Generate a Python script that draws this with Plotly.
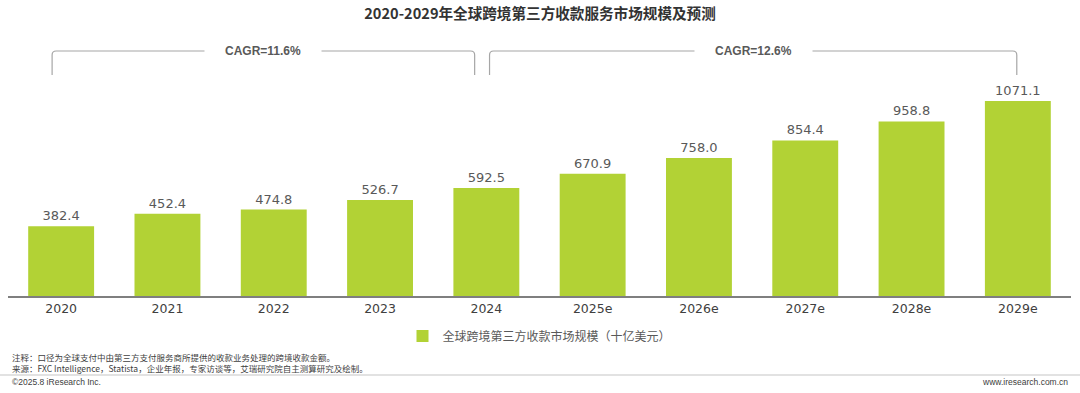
import plotly.graph_objects as go

categories = ["2020", "2021", "2022", "2023", "2024", "2025e", "2026e", "2027e", "2028e", "2029e"]
values = [382.4, 452.4, 474.8, 526.7, 592.5, 670.9, 758.0, 854.4, 958.8, 1071.1]
series_name = "全球跨境第三方收款市场规模（十亿美元）"
cagr_labels = ["CAGR=11.6%", "CAGR=12.6%"]
cagr_spans = [(0, 4), (4, 9)]
title = "2020-2029年全球跨境第三方收款服务市场规模及预测"
note1 = "注释：口径为全球支付中由第三方支付服务商所提供的收款业务处理的跨境收款金额。"
note2 = "来源：FXC Intelligence，Statista，企业年报，专家访谈等，艾瑞研究院自主测算研究及绘制。"
copyright_txt = "©2025.8 iResearch Inc."
site_txt = "www.iresearch.com.cn"

W, H = 1080, 393
ML, MR, MT, MB = 8, 9, 40, 97
plot_w = W - ML - MR
plot_h = H - MT - MB

BAR = "#B2D235"
GREY = "#595959"
CJK = "Noto Sans CJK SC"

xs = list(range(len(categories)))
fig = go.Figure()
fig.add_trace(go.Bar(
    x=xs, y=values, name=series_name,
    marker=dict(color=BAR, line=dict(width=0)),
    width=0.62,
    text=[f"{v:.1f}" for v in values], textposition="outside",
    textfont=dict(family="DejaVu Sans", size=13, color=GREY),
    cliponaxis=False,
))

ymax = 1406
def py(px_y):
    return (H - MB - px_y) / plot_h

def px_x(p):
    return (p - ML) / plot_w

unit_x = plot_w / len(categories)
rx = 4 / unit_x
ry = 4 / plot_h
y_top = py(51)
y_bot = py(75)
shapes = []
offsets = [(-0.085, -0.11), (0.03, -0.01)]
for (i0, i1), (o0, o1), lab in zip(cagr_spans, offsets, cagr_labels):
    x0 = i0 + o0
    x1 = i1 + o1
    path = (f"M {x0} {y_bot} L {x0} {y_top - ry} Q {x0} {y_top} {x0 + rx} {y_top} "
            f"L {x1 - rx} {y_top} Q {x1} {y_top} {x1} {y_top - ry} L {x1} {y_bot}")
    shapes.append(dict(type="path", path=path, xref="x", yref="paper",
                       line=dict(color="#A6A6A6", width=1.2)))
    fig.add_annotation(x=(x0 + x1) / 2, y=y_top, xref="x", yref="paper",
                       text=f"<b>{lab}</b>", showarrow=False,
                       font=dict(family="Liberation Sans", size=12, color=GREY),
                       bgcolor="white", borderpad=20, yanchor="middle")

shapes.append(dict(type="line", xref="paper", yref="paper",
                   x0=px_x(0), x1=px_x(W), y0=py(375), y1=py(375),
                   line=dict(color="#D9D9D9", width=1.5)))

foot_font = dict(family=CJK, size=8.5, color="#404040")
fig.add_annotation(x=px_x(10), y=py(357), xref="paper", yref="paper", text=note1,
                   showarrow=False, xanchor="left", yanchor="middle", font=foot_font)
fig.add_annotation(x=px_x(10), y=py(368), xref="paper", yref="paper", text=note2,
                   showarrow=False, xanchor="left", yanchor="middle", font=foot_font)
fig.add_annotation(x=px_x(10), y=py(382), xref="paper", yref="paper", text=copyright_txt,
                   showarrow=False, xanchor="left", yanchor="middle",
                   font=dict(family="Liberation Sans", size=8.5, color="#404040"))
fig.add_annotation(x=px_x(1070), y=py(382), xref="paper", yref="paper", text=site_txt,
                   showarrow=False, xanchor="right", yanchor="middle",
                   font=dict(family="Liberation Sans", size=8.5, color="#404040"))

fig.update_layout(
    width=W, height=H,
    margin=dict(l=ML, r=MR, t=MT, b=MB),
    plot_bgcolor="white", paper_bgcolor="white",
    title=dict(text=f"<b>{title}</b>", x=0.5, xanchor="center", y=1 - 14 / H, yanchor="middle",
               font=dict(family=CJK, size=14.6, color="#333333")),
    xaxis=dict(tickmode="array", tickvals=xs, ticktext=categories,
               range=[-0.5, len(categories) - 0.5],
               showline=True, linecolor="#7F7F7F", linewidth=1.5,
               showgrid=False, zeroline=False, ticks="",
               tickfont=dict(family="DejaVu Sans", size=12.5, color="#404040")),
    yaxis=dict(range=[0, ymax], visible=False, showgrid=False),
    showlegend=True,
    legend=dict(orientation="h", x=0.5, xanchor="center", y=py(336), yanchor="middle",
                font=dict(family=CJK, size=12, color=GREY)),
    shapes=shapes,
)

fig.write_html("out.html", config={"displayModeBar": False},
               post_script="document.body.style.margin='0';document.body.style.overflow='hidden';")
